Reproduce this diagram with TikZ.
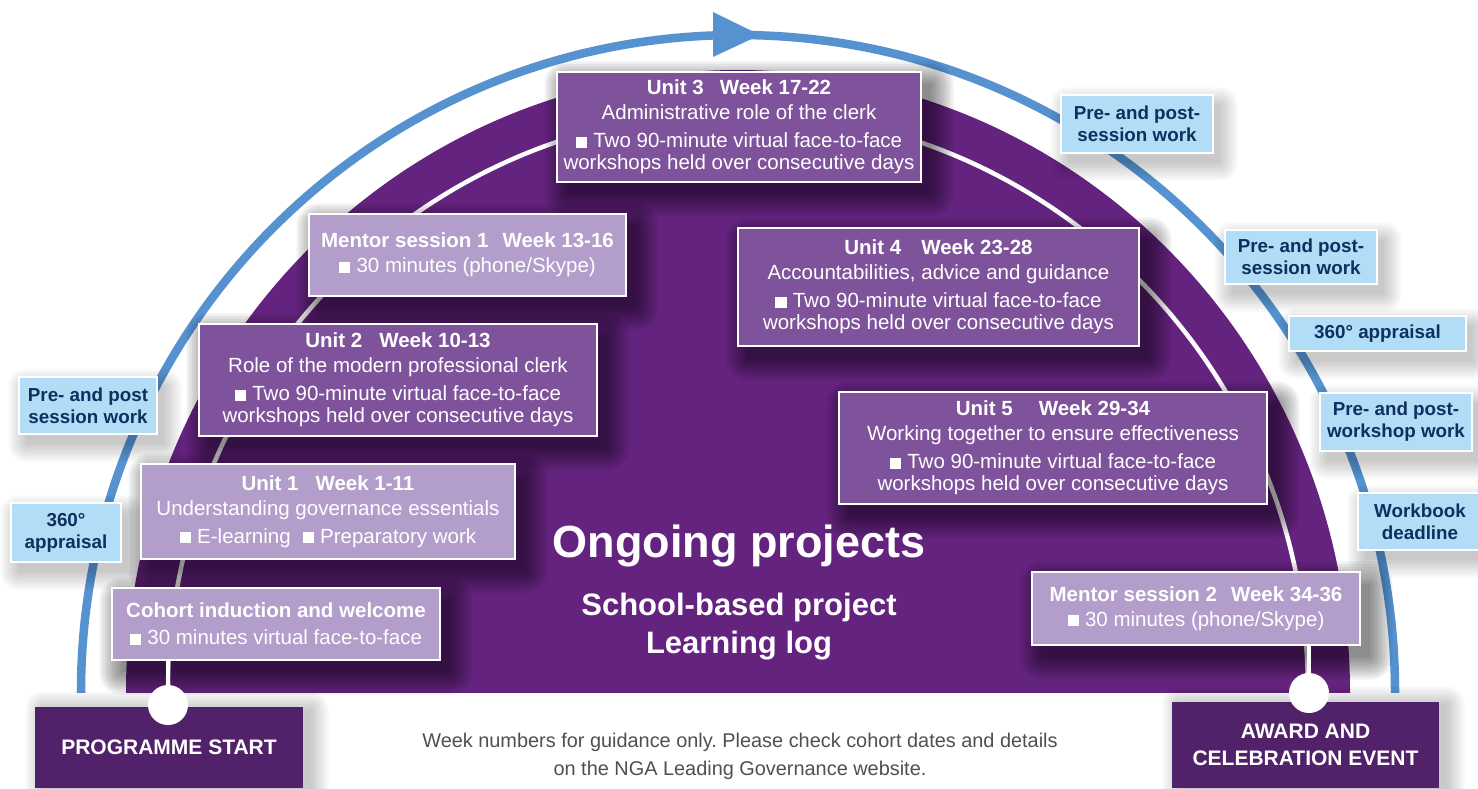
\documentclass[tikz,border=0pt]{standalone}
\usepackage{fontspec}
\setmainfont{Liberation Sans}
\definecolor{discpurple}{HTML}{652380}
\definecolor{midpurple}{HTML}{7F539B}
\definecolor{lightpurple}{HTML}{B39DCB}
\definecolor{darkpurple}{HTML}{51226A}
\definecolor{lightblue}{HTML}{B2DDF6}
\definecolor{navy}{HTML}{0F2F5F}
\definecolor{arcblue}{HTML}{5592CF}
\definecolor{notegray}{HTML}{505050}
\newcommand{\fsz}[2]{\fontsize{#1}{#2}\selectfont}
\newcommand{\sqb}{\rule{0.55em}{0.55em}\hspace{0.3em}}
\pgfdeclarelayer{bg}
\pgfdeclarelayer{shade}
\pgfsetlayers{bg,shade,main}
\newcommand{\softshadow}[5]{%
  \begin{pgfonlayer}{shade}
  \foreach \g in {0,2.5,...,#5} {
    \fill[black, opacity=#4, rounded corners=\g pt]
      ([shift={(#2-\g,#3-\g)}]#1.north west) rectangle ([shift={(#2+\g,#3+\g)}]#1.south east);
  }
  \end{pgfonlayer}}
\frenchspacing
\tikzset{
  every node/.style={inner sep=0pt, outer sep=0pt},
  sz/.style 2 args={minimum width=#1pt, minimum height=#2pt},
  pbox/.style={draw=white, line width=2pt, align=center, text=white, font=\fsz{20.5}{22}},
  midbox/.style={pbox, fill=midpurple},
  lightbox/.style={pbox, fill=lightpurple},
  bluebox/.style={draw=white, line width=2pt, fill=lightblue, text=navy, align=center,
    font=\bfseries\fsz{18.8}{22}},
  darkbox/.style={fill=darkpurple, text=white, align=center, font=\bfseries\fsz{21}{27}},
  dot/.style={circle, fill=white, minimum size=40pt},
  link/.style={white, line width=4.5pt},
}
\begin{document}
\begin{tikzpicture}[x=1pt, y=-1pt]
\useasboundingbox (0,0) rectangle (1478,789);
\begin{pgfonlayer}{bg}
\fill[white] (0,0) rectangle (1478,789);
% purple half disc and inner white arc
\begin{scope}
  \clip (0,0) rectangle (1478,692);
  \fill[discpurple] (738,692) ellipse [x radius=612, y radius=622];
  \draw[link] (738,692) ellipse [x radius=570, y radius=580];
  \draw[arcblue, line width=8.5pt] (738,692) circle [radius=657];
\end{scope}
\fill[arcblue] (713,12) -- (760,35) -- (713,57) -- cycle;
\end{pgfonlayer}

% ongoing projects
\node[font=\bfseries\fsz{45}{50}, text=white] (ongoing) at (739,546) {Ongoing projects};
\node[font=\bfseries\fsz{31}{38}, text=white, align=center] (projects) at (739,627) {School-based project\\Learning log};

% unit boxes
\node[midbox, sz={364}{110}] (unit3) at (739,127)
  {{\bfseries Unit 3\hspace{16pt}Week 17-22}\\[3pt] Administrative role of the clerk\\[6pt]
   \sqb Two 90-minute virtual face-to-face\\ workshops held over consecutive days};
\node[lightbox, sz={317}{82}] (mentor1) at (467.5,255)
  {{\bfseries Mentor session 1\hspace{14pt}Week 13-16}\\[3pt] \sqb 30 minutes (phone/Skype)};
\node[midbox, sz={401}{118}] (unit4) at (938.5,287)
  {{\bfseries Unit 4\hspace{20pt}Week 23-28}\\[3pt] Accountabilities, advice and guidance\\[6pt]
   \sqb Two 90-minute virtual face-to-face\\ workshops held over consecutive days};
\node[midbox, sz={398}{112}] (unit2) at (398,380)
  {{\bfseries Unit 2\hspace{17pt}Week 10-13}\\[3pt] Role of the modern professional clerk\\[6pt]
   \sqb Two 90-minute virtual face-to-face\\ workshops held over consecutive days};
\node[midbox, sz={428}{112}] (unit5) at (1053,448)
  {{\bfseries Unit 5\hspace{26pt}Week 29-34}\\[3pt] Working together to ensure effectiveness\\[6pt]
   \sqb Two 90-minute virtual face-to-face\\ workshops held over consecutive days};
\node[lightbox, sz={374}{95}] (unit1) at (328,511.5)
  {{\bfseries Unit 1\hspace{17pt}Week 1-11}\\[3pt] Understanding governance essentials\\[6pt]
   \sqb E-learning\hspace{12pt}\sqb Preparatory work};
\node[lightbox, sz={328}{72}] (cohort) at (276,624)
  {{\bfseries Cohort induction and welcome}\\[5pt] \sqb 30 minutes virtual face-to-face};
\node[lightbox, sz={328}{73}] (mentor2) at (1196,608.5)
  {{\bfseries Mentor session 2\hspace{14pt}Week 34-36}\\[3pt] \sqb 30 minutes (phone/Skype)};
\foreach \b in {unit3,mentor1,unit4,unit2,unit5,unit1,cohort,mentor2} {\softshadow{\b}{10}{12}{0.055}{22.5}}

% blue boxes
\node[bluebox, sz={138}{57}] (bl1) at (88,405.5) {Pre- and post\\session work};
\node[bluebox, sz={110}{59}] (bl2) at (66,532.5) {360°\\appraisal};
\node[bluebox, sz={152}{58}] (br1) at (1137,124) {Pre- and post-\\session work};
\node[bluebox, sz={152}{54}] (br2) at (1301,257) {Pre- and post-\\session work};
\node[bluebox, sz={177}{35}] (br3) at (1377.5,333.5) {360° appraisal};
\node[bluebox, sz={152}{58}] (br4) at (1396,422) {Pre- and post-\\workshop work};
\node[bluebox, sz={124}{57}] (br5) at (1420,521.5) {Workbook\\deadline};
\foreach \b in {bl1,bl2,br1,br2,br3,br4,br5} {\softshadow{\b}{7}{10}{0.028}{17.5}}

% start and end
\node[darkbox, sz={268}{81}] (start) at (169,747.5) {\raisebox{-4pt}{PROGRAMME START}};
\node[darkbox, sz={267}{86}] (award) at (1305.5,745) {AWARD AND\\CELEBRATION EVENT};
\foreach \b in {start,award} {\softshadow{\b}{8}{2}{0.028}{17.5}}
\node[dot] (startdot) at (168,705) {};
\node[dot] (enddot) at (1309,693) {};
\draw[link] (cohort.south -| startdot) -- (startdot);
\draw[link] (mentor2.south -| enddot) -- (enddot);

% note
\node[font=\fsz{19.9}{28}, text=notegray, align=center] (note) at (740,756)
  {Week numbers for guidance only. Please check cohort dates and details\\on the NGA Leading Governance website.};
\end{tikzpicture}
\end{document}
